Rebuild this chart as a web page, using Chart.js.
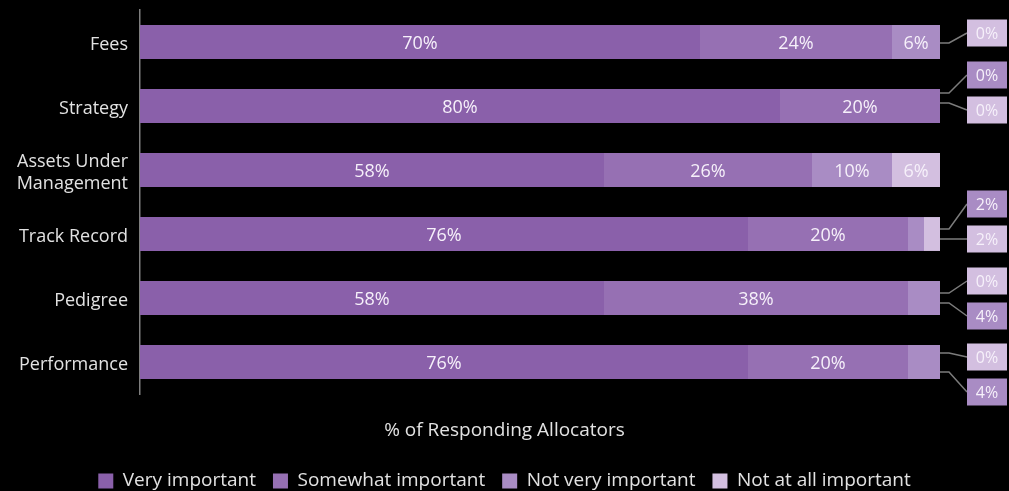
<!DOCTYPE html>
<html lang="en">
<head>
    <meta charset="UTF-8">
    <title>Selection criteria</title>
    <script src="https://cdn.jsdelivr.net/npm/chart.js@4.4.1/dist/chart.umd.min.js"></script>
    <style>
        html, body { margin: 0; padding: 0; background: #000; }
        #wrap { width: 1009px; height: 491px; }
    </style>
</head>
<body>
    <div id="wrap"><canvas id="myChart" width="1009" height="491"></canvas></div>

    <script>
        const categories = ['Fees', 'Strategy', ['Assets Under', 'Management'], 'Track Record', 'Pedigree', 'Performance'];
        const veryImportant = [70, 80, 58, 76, 58, 76];
        const somewhatImportant = [24, 20, 26, 20, 38, 20];
        const notVeryImportant = [6, 0, 10, 2, 4, 4];
        const notAtAllImportant = [0, 0, 6, 2, 0, 0];
        const seriesNames = ['Very important', 'Somewhat important', 'Not very important', 'Not at all important'];
        const seriesColors = ['#8a60aa', '#9670b3', '#a98cc4', '#d3bfe0'];

        const FONT = '"Open Sans", Lato, sans-serif';

        // small segments get a leader line out to a box on the right
        // ds = dataset index, dy = box centre offset from bar centre, sy = where the leader leaves the bar
        const leaderLayout = [
            [{ ds: 3, dy: -9, sy: 1 }],
            [{ ds: 2, dy: -31, sy: -13 }, { ds: 3, dy: 4, sy: -3 }],
            [],
            [{ ds: 2, dy: -30, sy: -5 }, { ds: 3, dy: 5, sy: 5 }],
            [{ ds: 3, dy: -17, sy: -5 }, { ds: 2, dy: 18, sy: 5 }],
            [{ ds: 3, dy: -5, sy: -9 }, { ds: 2, dy: 30, sy: 10 }]
        ];

        Chart.defaults.font.family = FONT;
        Chart.defaults.font.size = 19;
        Chart.defaults.color = '#e2e2e2';

        const barLabels = {
            id: 'barLabels',
            afterDatasetsDraw(chart) {
                const ctx = chart.ctx;
                ctx.save();
                ctx.font = '18px ' + FONT;
                ctx.fillStyle = '#f6f0fa';
                ctx.textAlign = 'center';
                ctx.textBaseline = 'middle';
                chart.data.datasets.forEach((ds, d) => {
                    chart.getDatasetMeta(d).data.forEach((bar, i) => {
                        const v = ds.data[i];
                        if (v < 5) return;
                        const c = bar.getCenterPoint();
                        ctx.fillText(v + '%', c.x, c.y + 2);
                    });
                });
                ctx.restore();
            }
        };

        const leaders = {
            id: 'leaders',
            afterDatasetsDraw(chart) {
                const ctx = chart.ctx;
                const xScale = chart.scales.x;
                const yScale = chart.scales.y;
                ctx.save();
                leaderLayout.forEach((row, i) => {
                    const total = chart.data.datasets.reduce((s, ds) => s + ds.data[i], 0);
                    const xEnd = xScale.getPixelForValue(total);
                    const yMid = yScale.getPixelForValue(i);
                    row.forEach(item => {
                        const v = chart.data.datasets[item.ds].data[i];
                        const boxX = xEnd + 27, boxW = 40, boxH = 27;
                        const by = yMid + item.dy;
                        ctx.strokeStyle = '#7c7c7c';
                        ctx.lineWidth = 1.5;
                        ctx.beginPath();
                        ctx.moveTo(xEnd, yMid + item.sy);
                        ctx.lineTo(xEnd + 9, yMid + item.sy);
                        ctx.lineTo(boxX, by);
                        ctx.stroke();
                        ctx.fillStyle = seriesColors[item.ds];
                        ctx.fillRect(boxX, by - boxH / 2, boxW, boxH);
                        ctx.fillStyle = '#f6f0fa';
                        ctx.font = '16px ' + FONT;
                        ctx.textAlign = 'center';
                        ctx.textBaseline = 'middle';
                        ctx.fillText(v + '%', boxX + boxW / 2, by + 1);
                    });
                });
                ctx.restore();
            }
        };

        const ctx = document.getElementById('myChart').getContext('2d');
        const myChart = new Chart(ctx, {
            type: 'bar',
            data: {
                labels: categories,
                datasets: [veryImportant, somewhatImportant, notVeryImportant, notAtAllImportant].map((values, k) => ({
                    label: seriesNames[k],
                    data: values,
                    backgroundColor: seriesColors[k],
                    borderWidth: 0,
                    categoryPercentage: 0.53,
                    barPercentage: 1
                }))
            },
            options: {
                indexAxis: 'y',
                responsive: false,
                animation: false,
                layout: {
                    autoPadding: false,
                    padding: { left: 0, right: 0, top: 10, bottom: -9.5 }
                },
                scales: {
                    x: {
                        display: false,
                        stacked: true,
                        min: 0,
                        // leaves room right of the 100% mark for the leader boxes
                        max: 108.625
                    },
                    y: {
                        stacked: true,
                        afterFit(scale) {
                            scale.width = 140;
                            scale.paddingTop = 0;
                            scale.paddingBottom = 0;
                        },
                        grid: { display: false, drawTicks: false },
                        border: { display: true, color: '#7e7e7e', width: 1.5 },
                        ticks: { color: '#e2e2e2', padding: 12, labelOffset: 3, font: { size: 18 } }
                    }
                },
                plugins: {
                    tooltip: { enabled: false },
                    title: {
                        display: true,
                        text: '% of Responding Allocators',
                        position: 'bottom',
                        weight: 500,
                        color: '#e2e2e2',
                        font: { size: 19, weight: 'normal' },
                        padding: { top: 25.6, bottom: 12.1 }
                    },
                    legend: {
                        position: 'bottom',
                        labels: {
                            color: '#e2e2e2',
                            boxWidth: 15,
                            boxHeight: 15,
                            padding: 17,
                            font: { size: 19 }
                        }
                    }
                }
            },
            plugins: [barLabels, leaders]
        });
    </script>
</body>
</html>
